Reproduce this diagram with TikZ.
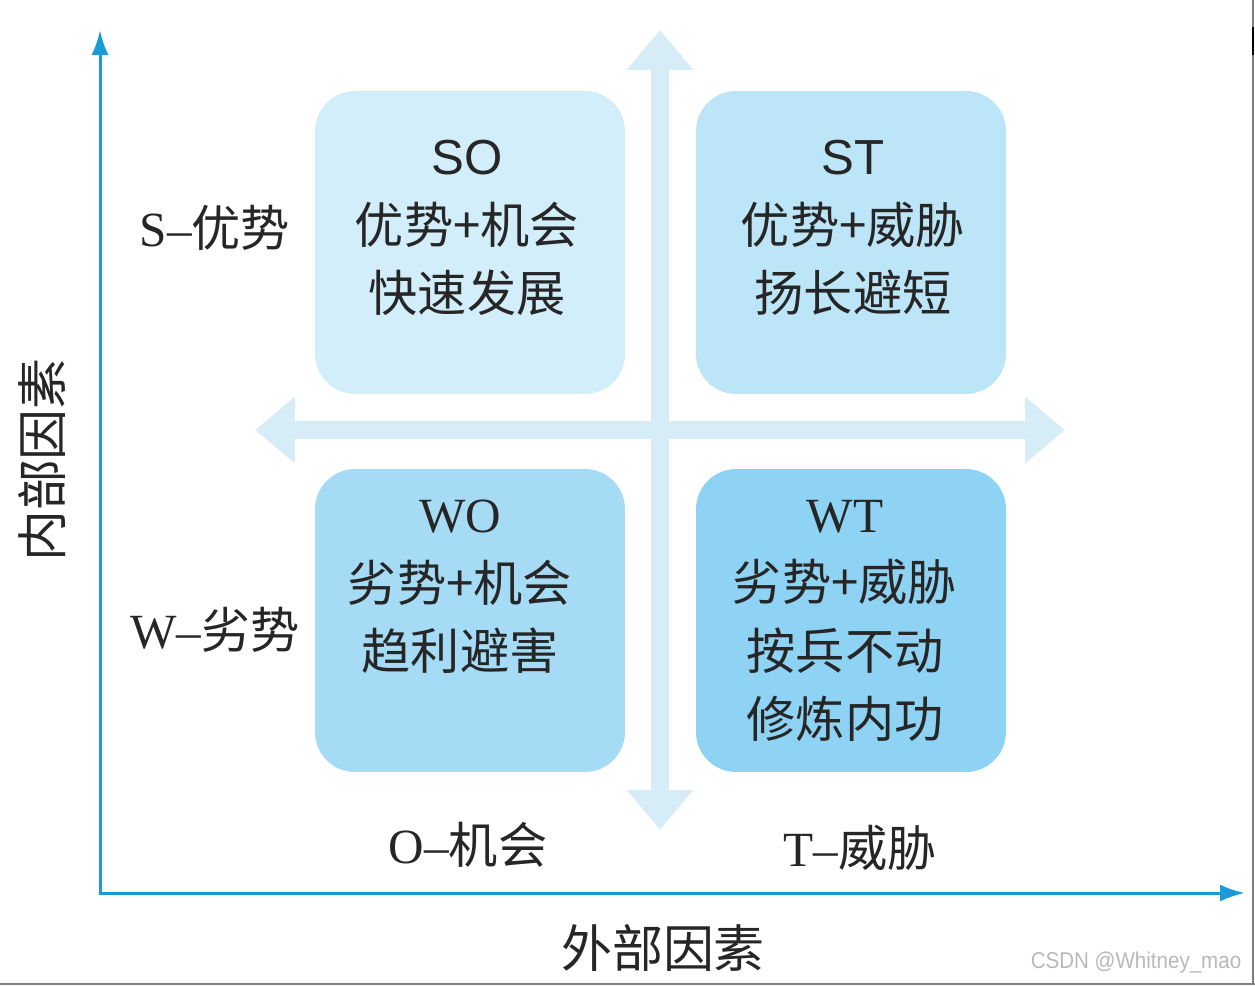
\documentclass[tikz,border=0pt]{standalone}
\usepackage{fontspec}
\setmainfont{Liberation Serif}
\newfontfamily\cjk{Noto Sans CJK SC}
\newfontfamily\helv{Liberation Sans}
\usetikzlibrary{arrows.meta}

\definecolor{axisblue}{HTML}{1A9AD8}
\definecolor{crossblue}{HTML}{D6EDF8}
\definecolor{soblue}{HTML}{D3EEFB}
\definecolor{stblue}{HTML}{BCE5F8}
\definecolor{woblue}{HTML}{A5DBF5}
\definecolor{wtblue}{HTML}{8ED3F3}

\begin{document}
\begin{tikzpicture}[x=0.02cm,y=-0.02cm,
  quad/.style={rounded corners=0.8cm,minimum width=6.2cm,minimum height=6.06cm,inner sep=0pt},
  boxtext/.style={align=center,text=black!85,font=\cjk\fontsize{28}{39}\selectfont},
  sidetext/.style={text=black!85,font=\fontsize{28}{34}\selectfont},
  axis/.style={axisblue,line width=0.06cm},
  cross/.style={crossblue,line width=0.36cm}]
\useasboundingbox (0,0) rectangle (1255,985);

\coordinate (up) at (660,30);
\coordinate (down) at (660,830);
\coordinate (left) at (255,430);
\coordinate (right) at (1065,430);
\draw[cross,{Triangle[length=0.8cm,width=1.28cm]}-{Triangle[length=0.8cm,width=1.28cm]}] (down) -- (up);
\draw[cross,{Triangle[length=0.8cm,width=1.28cm]}-{Triangle[length=0.8cm,width=1.28cm]}] (left) -- (right);

\node[quad,fill=soblue] (so) at (470,242.5) {};
\node[quad,fill=stblue] (st) at (851,242.5) {};
\node[quad,fill=woblue] (wo) at (470,620.5) {};
\node[quad,fill=wtblue] (wt) at (851,620.5) {};

\node[boxtext] (sotext) at (467,228) {{\helv SO}\\优势+机会\\快速发展};
\node[boxtext] (sttext) at (853,228) {{\helv ST}\\优势+威胁\\扬长避短};
\node[boxtext] (wotext) at (460,587) {{\rmfamily WO}\\劣势+机会\\趋利避害};
\node[boxtext] (wttext) at (845,621) {{\rmfamily WT}\\劣势+威胁\\按兵不动\\修炼内功};

\coordinate (ytip) at (100,30);
\coordinate (origin) at (100,893);
\coordinate (xtip) at (1245,893);
\draw[axis,{Latex[length=0.5cm,width=0.34cm]}-{Latex[length=0.5cm,width=0.34cm]}] (ytip) -- (origin) -- (xtip);

\node[sidetext] (s) at (215,228) {S–{\cjk 优势}};
\node[sidetext] (w) at (215,630) {W–{\cjk 劣势}};
\node[sidetext] (o) at (468,845) {O–{\cjk 机会}};
\node[sidetext] (t) at (860,848) {T–{\cjk 威胁}};
\node[sidetext,font=\cjk\fontsize{29}{34}\selectfont] (external) at (663,948) {外部因素};
\node[sidetext,font=\cjk\fontsize{29}{34}\selectfont,rotate=90] (internal) at (42,460) {内部因素};

\node[text=gray!55,font=\helv\fontsize{13}{15}\selectfont,xscale=0.9] (mark) at (1136,963) {CSDN @Whitney\_mao};

\draw[gray,line width=0.05cm] (1253,0) -- (1253,985);
\draw[gray,line width=0.05cm] (0,984) -- (1255,984);
\draw[black,line width=0.05cm] (1253,27) -- (1253,55);
\end{tikzpicture}
\end{document}
